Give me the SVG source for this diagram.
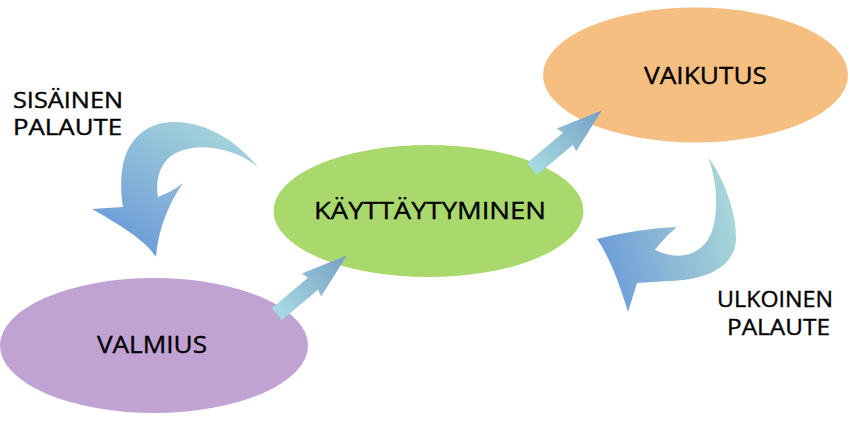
<svg xmlns="http://www.w3.org/2000/svg" width="850" height="427" viewBox="0 0 850 427">
  <defs>
    <linearGradient id="gStraight" x1="0" y1="0" x2="1" y2="0">
      <stop offset="0" stop-color="#a6dbe2"/>
      <stop offset="1" stop-color="#789fc6"/>
    </linearGradient>
    <linearGradient id="gLeft" x1="1" y1="0.1" x2="0.3" y2="1">
      <stop offset="0" stop-color="#a9d9dd"/>
      <stop offset="0.5" stop-color="#8cbad8"/>
      <stop offset="1" stop-color="#6c9bd9"/>
    </linearGradient>
    <linearGradient id="gRight" x1="1" y1="0.3" x2="0" y2="0.6">
      <stop offset="0" stop-color="#a9d8db"/>
      <stop offset="0.5" stop-color="#8fbad6"/>
      <stop offset="1" stop-color="#6c9cd9"/>
    </linearGradient>
    <path id="straightArrow" d="M0,-7.8 L47,-7.8 L45,-15 L91,0 L45,15 L47,7.8 L0,7.8 Z"/>
  </defs>
  <style>
    .lbl { font-family: "Open Sans", "Liberation Sans", sans-serif; fill: #000000; stroke: #000000; stroke-width: 0.35; }
    .node-text { font-size: 24px; text-anchor: middle; }
    .side-text { font-size: 21px; }
  </style>
  <rect width="850" height="427" fill="#ffffff"/>

  <g id="node-vaikutus">
    <ellipse cx="695.5" cy="75" rx="152.5" ry="67.5" fill="#f5bf81"/>
    <text class="lbl node-text" x="705.5" y="84" textLength="123" lengthAdjust="spacingAndGlyphs">VAIKUTUS</text>
  </g>
  <g id="node-kayttaytyminen">
    <ellipse cx="428.5" cy="211" rx="155" ry="66" fill="#a9d96c"/>
    <text class="lbl node-text" x="430" y="219" textLength="232" lengthAdjust="spacingAndGlyphs">KÄYTTÄYTYMINEN</text>
  </g>
  <g id="node-valmius">
    <ellipse cx="154" cy="345.5" rx="154" ry="67.5" fill="#c0a3d2"/>
    <text class="lbl node-text" x="152" y="353" textLength="110" lengthAdjust="spacingAndGlyphs">VALMIUS</text>
  </g>

  <g id="connectors">
    <use href="#straightArrow" transform="translate(277,314) rotate(-40)" fill="url(#gStraight)"/>
    <use href="#straightArrow" transform="translate(532,169) rotate(-40)" fill="url(#gStraight)"/>
    <path id="arrow-sisainen" fill="url(#gLeft)" d="M258,167 C236,140 205,122 175,122 C145,122 128,140 123,165 C120,180 121,195 123,207 L92,209 C120,225 145,240 156,257 C158,230 168,205 183,183 C174,190 166,194 158,197 C155,180 160,160 178,152 C200,142 235,148 258,167 Z"/>
    <path id="arrow-ulkoinen" fill="url(#gRight)" d="M708,157 C725,180 737,215 736,240 C734,268 705,280 670,281 L637,283 L628,312 C620,285 610,258 597,239 C625,232 652,228 677,227 C668,234 661,242 655,250 C680,262 705,255 713,228 C719,205 716,178 708,157 Z"/>
  </g>

  <g id="label-sisainen">
    <text class="lbl side-text" x="13" y="108" textLength="110" lengthAdjust="spacingAndGlyphs">SISÄINEN</text>
    <text class="lbl side-text" x="13" y="135" textLength="109" lengthAdjust="spacingAndGlyphs">PALAUTE</text>
  </g>
  <g id="label-ulkoinen">
    <text class="lbl side-text" x="717" y="307" textLength="116" lengthAdjust="spacingAndGlyphs">ULKOINEN</text>
    <text class="lbl side-text" x="727" y="335" textLength="103" lengthAdjust="spacingAndGlyphs">PALAUTE</text>
  </g>
</svg>
